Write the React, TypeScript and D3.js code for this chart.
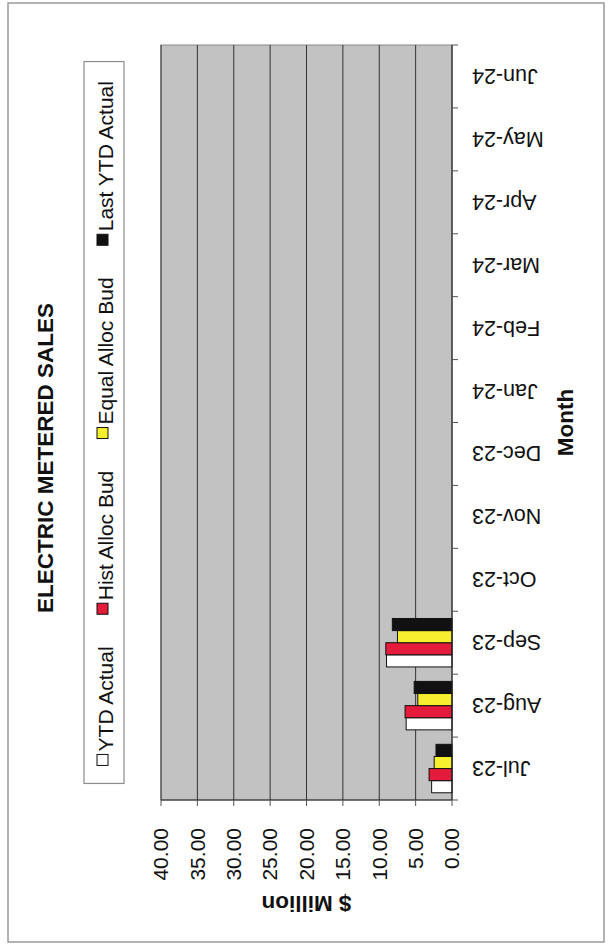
import React from "react";
import * as d3 from "d3";

// Chart content
const TITLE = "ELECTRIC METERED SALES";
const X_TITLE = "Month";
const Y_TITLE = "$ Million";
const months = ["Jul-23", "Aug-23", "Sep-23", "Oct-23", "Nov-23", "Dec-23", "Jan-24", "Feb-24", "Mar-24", "Apr-24", "May-24", "Jun-24"];
const seriesNames = ["YTD Actual", "Hist Alloc Bud", "Equal Alloc Bud", "Last YTD Actual"];
const seriesColors = ["#ffffff", "#e41b3a", "#f7ee2e", "#111111"];
const ytdActual = [2.8, 6.3, 9.0, null, null, null, null, null, null, null, null, null];
const histAllocBud = [3.15, 6.45, 9.1, null, null, null, null, null, null, null, null, null];
const equalAllocBud = [2.45, 4.7, 7.5, null, null, null, null, null, null, null, null, null];
const lastYtdActual = [2.2, 5.2, 8.2, null, null, null, null, null, null, null, null, null];
const valueTicks = [0, 5, 10, 15, 20, 25, 30, 35, 40];

const seriesValues = [ytdActual, histAllocBud, equalAllocBud, lastYtdActual];

// The page is laid out landscape (U x V) and turned a quarter turn to fit the portrait sheet.
const PAGE_W = 609;
const PAGE_H = 946;
const FONT = "'Liberation Sans', Arial, Helvetica, sans-serif";

const plot = { left: 146, right: 901, top: 161, bottom: 452 };

function textWidth(text: string, font: string): number {
  const c = document.createElement("canvas");
  const ctx = c.getContext("2d");
  if (!ctx) return text.length * 10;
  ctx.font = font;
  return ctx.measureText(text).width;
}

export default function App() {
  const x0 = d3.scaleBand<string>().domain(months).range([plot.left, plot.right]).paddingInner(0).paddingOuter(0);
  const bw = x0.bandwidth();
  const x1 = d3.scaleBand<string>().domain(seriesNames).range([bw * 0.115, bw * 0.885]).padding(0);
  const y = d3.scaleLinear().domain([0, 40]).range([plot.bottom, plot.top]);
  const fmt = d3.format(".2f");

  // Legend layout: marker, label, gap, centred under the plot
  const legendFont = `21px ${FONT}`;
  const markerSize = 11;
  const markerGap = 3;
  const itemGap = 31;
  const widths = seriesNames.map((n) => textWidth(n, legendFont));
  const total = widths.reduce((a, w) => a + markerSize + markerGap + w, 0) + itemGap * (seriesNames.length - 1);
  const center = (plot.left + plot.right) / 2;
  let cursor = center - total / 2;
  const legendItems = seriesNames.map((n, i) => {
    const start = cursor;
    cursor += markerSize + markerGap + widths[i] + itemGap;
    return { name: n, color: seriesColors[i], start };
  });
  const legendLeft = center - total / 2 - 18;
  const legendRight = center + total / 2 + 18;

  return (
    <svg
      width={PAGE_W}
      height={PAGE_H}
      style={{ position: "absolute", left: 0, top: 0, display: "block", background: "#ffffff" }}
      fontFamily={FONT}
    >
      <rect x={0} y={0} width={PAGE_W} height={PAGE_H} fill="#ffffff" />
      <g transform={`translate(0,${PAGE_H}) rotate(-90)`}>
        {/* chart frame */}
        <rect x={4} y={8} width={939} height={596} fill="#ffffff" stroke="#9a9a9a" strokeWidth={1.5} />

        {/* title */}
        <text x={488} y={53} textAnchor="middle" fontSize={22.5} fontWeight="bold" fill="#111">
          {TITLE}
        </text>

        {/* legend */}
        <rect x={legendLeft} y={84} width={legendRight - legendLeft} height={40} fill="#ffffff" stroke="#8c8c8c" strokeWidth={1.2} />
        {legendItems.map((it) => (
          <g key={it.name}>
            <rect x={it.start} y={97} width={markerSize} height={markerSize} fill={it.color} stroke="#111" strokeWidth={1} />
            <text x={it.start + markerSize + markerGap} y={112.5} fontSize={21} fill="#111">
              {it.name}
            </text>
          </g>
        ))}

        {/* plot area */}
        <rect x={plot.left} y={plot.top} width={plot.right - plot.left} height={plot.bottom - plot.top} fill="#c2c2c2" stroke="#8a8a8a" strokeWidth={1} />

        {/* gridlines */}
        {valueTicks.filter((t) => t > 0).map((t) => (
          <line key={`g${t}`} x1={plot.left} x2={plot.right} y1={y(t)} y2={y(t)} stroke="#333" strokeWidth={1} />
        ))}

        {/* bars */}
        {months.map((m, mi) => (
          <g key={m}>
            {seriesNames.map((s, si) => {
              const v = seriesValues[si][mi];
              if (v == null) return null;
              const bx = (x0(m) ?? 0) + (x1(s) ?? 0);
              return (
                <rect
                  key={s}
                  x={bx}
                  y={y(v)}
                  width={x1.bandwidth()}
                  height={y(0) - y(v)}
                  fill={seriesColors[si]}
                  stroke="#111"
                  strokeWidth={1}
                />
              );
            })}
          </g>
        ))}

        {/* category axis */}
        <line x1={plot.left} x2={plot.right} y1={y(0)} y2={y(0)} stroke="#222" strokeWidth={1.2} />
        {d3.range(months.length + 1).map((i) => {
          const u = plot.left + i * bw;
          return <line key={`ct${i}`} x1={u} x2={u} y1={y(0)} y2={y(0) + 6} stroke="#555" strokeWidth={1} />;
        })}
        {months.map((m) => {
          const u = (x0(m) ?? 0) + bw / 2;
          return (
            <text
              key={`cl${m}`}
              transform={`translate(${u},472) rotate(-90)`}
              textAnchor="end"
              dy="0.35em"
              fontSize={21.5}
              fill="#111"
            >
              {m}
            </text>
          );
        })}
        <text x={center} y={573} textAnchor="middle" fontSize={22.5} fontWeight="bold" fill="#111">
          {X_TITLE}
        </text>

        {/* value axis */}
        <line x1={plot.left} x2={plot.left} y1={plot.top} y2={plot.bottom} stroke="#222" strokeWidth={1.2} />
        {valueTicks.map((t) => (
          <g key={`vt${t}`}>
            <line x1={plot.left - 6} x2={plot.left} y1={y(t)} y2={y(t)} stroke="#555" strokeWidth={1} />
            <text x={118} y={y(t)} dy="0.35em" textAnchor="end" fontSize={21} fill="#111">
              {fmt(t)}
            </text>
          </g>
        ))}
        <text
          transform={`translate(50,${(plot.top + plot.bottom) / 2}) rotate(-90)`}
          textAnchor="middle"
          fontSize={22.5}
          fontWeight="bold"
          fill="#111"
        >
          {Y_TITLE}
        </text>
      </g>
    </svg>
  );
}
